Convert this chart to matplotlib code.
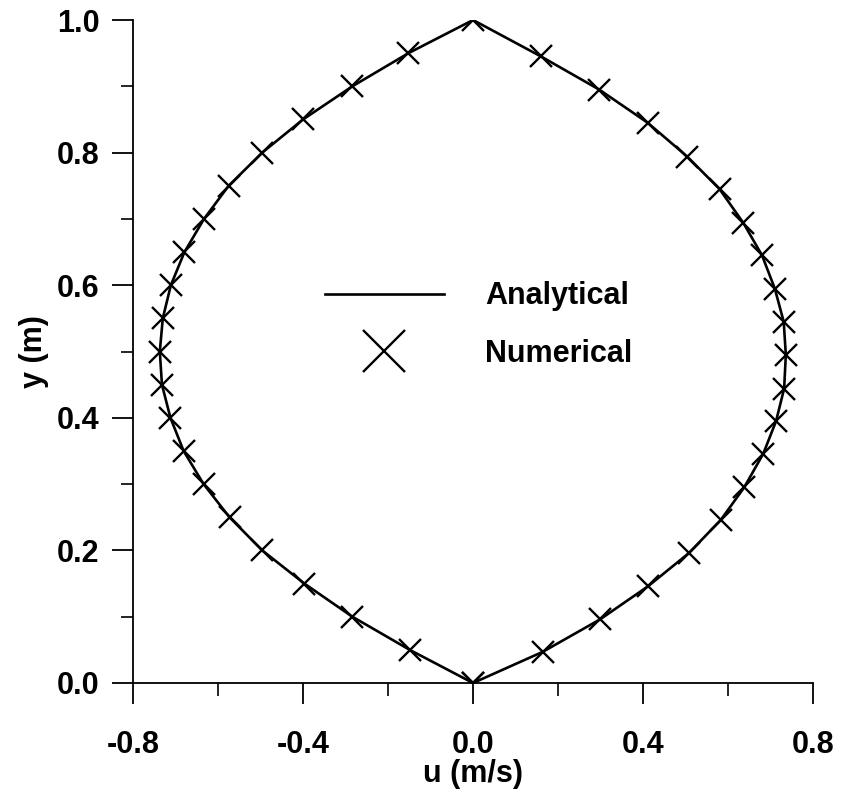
import numpy as np
import matplotlib
matplotlib.use("Agg")
import matplotlib.pyplot as plt
from matplotlib.ticker import MultipleLocator

plt.rcParams['font.family'] = ['Liberation Sans', 'DejaVu Sans']
plt.rcParams['font.weight'] = 'bold'
plt.rcParams['axes.labelweight'] = 'bold'

# values
y_left = [0.00, 0.05, 0.10, 0.15, 0.20, 0.25, 0.30, 0.35, 0.40, 0.45, 0.50,
          0.55, 0.60, 0.65, 0.70, 0.75, 0.80, 0.85, 0.90, 0.95, 1.00]
u_left = [0.000, -0.149, -0.284, -0.397, -0.496, -0.573, -0.634, -0.681, -0.712, -0.732, -0.737,
          -0.730, -0.711, -0.679, -0.633, -0.575, -0.496, -0.400, -0.284, -0.152, 0.000]

y_right = [1.000, 0.945, 0.895, 0.845, 0.794, 0.745, 0.694, 0.645, 0.595, 0.545, 0.495,
           0.444, 0.395, 0.346, 0.295, 0.246, 0.196, 0.146, 0.096, 0.047, 0.000]
u_right = [0.000, 0.160, 0.297, 0.411, 0.504, 0.580, 0.636, 0.680, 0.710, 0.731, 0.736,
           0.732, 0.713, 0.683, 0.638, 0.583, 0.508, 0.412, 0.299, 0.164, 0.000]

u_all = u_left + u_right[1:]
y_all = y_left + y_right[1:]

fig = plt.figure(figsize=(8.42, 7.94), dpi=100)
ax = fig.add_axes([0.158, 0.1398, 0.8076, 0.835])

ax.plot(u_all, y_all, color='black', lw=1.9, label='Analytical')
ax.plot(u_all, y_all, ls='none', marker='x', ms=16, mew=1.7, color='black',
        label='Numerical')

ax.set_xlim(-0.8, 0.8)
ax.set_ylim(0.0, 1.0)
ax.xaxis.set_major_locator(MultipleLocator(0.4))
ax.xaxis.set_minor_locator(MultipleLocator(0.2))
ax.yaxis.set_major_locator(MultipleLocator(0.2))
ax.yaxis.set_minor_locator(MultipleLocator(0.1))
ax.xaxis.set_major_formatter(lambda v, p: f"{v:.1f}")
ax.yaxis.set_major_formatter(lambda v, p: f"{v:.1f}")

for s in ['top', 'right']:
    ax.spines[s].set_visible(False)
for s in ['left', 'bottom']:
    ax.spines[s].set_linewidth(1.3)

ax.tick_params(which='major', direction='out', length=15, width=1.3, labelsize=22)
ax.tick_params(which='minor', direction='out', length=9, width=1.2)
ax.tick_params(axis='x', which='major', pad=19)
ax.tick_params(axis='y', which='major', pad=9)

ax.set_xlabel('u (m/s)', fontsize=22, fontweight='bold', labelpad=-1)
ax.set_ylabel('y (m)', fontsize=22, fontweight='bold', labelpad=6)

leg = ax.legend(loc='upper left', bbox_to_anchor=(0.282, 0.606), frameon=False,
                prop={'size': 22, 'weight': 'bold'}, handlelength=3.9, handletextpad=1.35,
                labelspacing=0.9, borderpad=0, borderaxespad=0, markerscale=1.9)

fig.savefig('out.png', dpi=100)
